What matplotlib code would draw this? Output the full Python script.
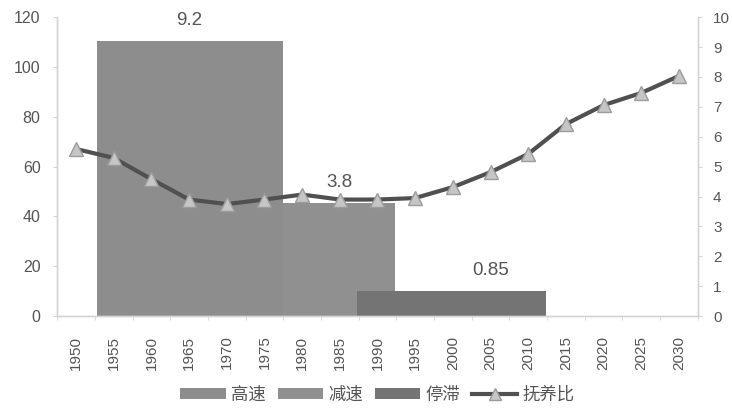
import matplotlib
matplotlib.use("Agg")
import matplotlib.pyplot as plt
from matplotlib.patches import Patch
from matplotlib.lines import Line2D

plt.rcParams["font.family"] = ["Liberation Sans", "Noto Sans CJK SC"]

# 抚养比 (left axis)
years = [1950, 1955, 1960, 1965, 1970, 1975, 1980, 1985, 1990,
         1995, 2000, 2005, 2010, 2015, 2020, 2025, 2030]
dependency = [67.1, 63.5, 55.0, 46.8, 45.0, 46.8, 48.8, 46.8, 46.8,
              47.4, 51.8, 57.8, 65.1, 77.1, 84.7, 89.6, 96.4]

# growth periods (right axis)
period_names = ["高速", "减速", "停滞"]
period_start = [1952.8, 1977.5, 1987.3]
period_end = [1977.5, 1992.3, 2012.3]
growth = [9.2, 3.8, 0.85]
label_x = [1965, 1985, 2005]

bar_colors = ["#8d8d8d", "#909090", "#747474"]
axis_grey = "#d4d4d4"
text_grey = "#555555"

fig, ax = plt.subplots(figsize=(7.33, 4.09), dpi=100)
fig.subplots_adjust(left=0.078, right=0.952, top=0.958, bottom=0.227)
ax2 = ax.twinx()

# bars on the secondary axis, drawn underneath the line
for start, end, val, col in zip(period_start, period_end, growth, bar_colors):
    ax2.bar(start, val, width=end - start, align="edge", color=col,
            edgecolor="none")
for x, val in zip(label_x, growth):
    ax2.text(x, val + 0.68, f"{val:g}", ha="center", va="center",
             fontsize=13.5, color=text_grey)

ax.plot(years, dependency, color="#505050", lw=3, marker="^", ms=10.5,
        mfc="#c6c6c6", mec="#9c9c9c", mew=1, zorder=3)

ax.set_zorder(ax2.get_zorder() + 1)
ax.patch.set_visible(False)

ax.set_xlim(1947.5, 2032.5)
ax.set_ylim(0, 120)
ax2.set_ylim(0, 10)
ax.set_yticks(range(0, 121, 20))
ax2.set_yticks(range(0, 11))
ax.set_xticks(years)
ax.set_xticklabels([str(y) for y in years], rotation=90)
ax.set_xticks([y - 2.5 for y in years] + [2032.5], minor=True)

for a in (ax, ax2):
    a.spines["top"].set_visible(False)
    for side in ("left", "right", "bottom"):
        a.spines[side].set_color(axis_grey)
        a.spines[side].set_linewidth(1)
    a.tick_params(axis="y", colors=axis_grey, labelcolor=text_grey,
                  labelsize=11.5, length=3)
ax.tick_params(axis="y", pad=9)
ax2.tick_params(axis="y", pad=8, labelsize=11)
ax.tick_params(axis="x", which="major", length=0, labelcolor=text_grey,
               labelsize=11, pad=14)
ax.tick_params(axis="x", which="minor", length=3, color=axis_grey)

handles = [Patch(facecolor=c, edgecolor="none") for c in bar_colors]
handles.append(Line2D([], [], color="#505050", lw=3, marker="^", ms=8,
                      mfc="#c6c6c6", mec="#9c9c9c"))
fig.legend(handles, period_names + ["抚养比"], loc="center",
           bbox_to_anchor=(0.515, 0.035), ncol=4, frameon=False,
           fontsize=12.5, handlelength=2.6, handleheight=0.6,
           handletextpad=0.3, columnspacing=0.7, labelcolor=text_grey)

fig.savefig("out.png", dpi=100)
plt.close(fig)
